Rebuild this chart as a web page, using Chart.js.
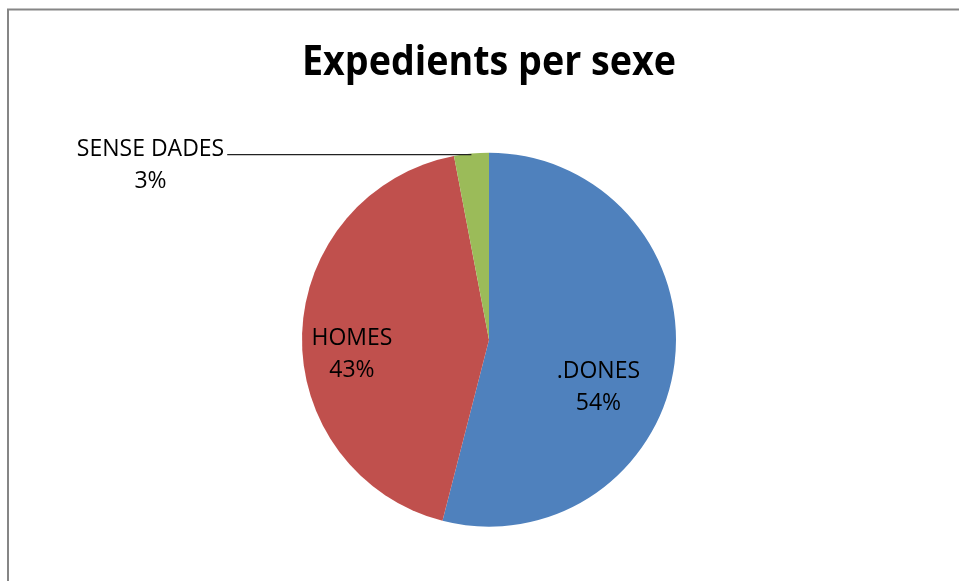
<!DOCTYPE html>
<html>
<head>
<meta charset="utf-8">
<script src="https://cdn.jsdelivr.net/npm/chart.js@4.4.1/dist/chart.umd.min.js"></script>
<style>
  html, body { margin: 0; padding: 0; background: #fff; }
  #wrap { width: 959px; height: 581px; position: relative; }
</style>
</head>
<body>
<div id="wrap"><canvas id="sexChart" width="959" height="581"></canvas></div>
<script>
// Data
const categories = [".DONES", "HOMES", "SENSE DADES"];
const percentages = [54, 43, 3];
const sliceColors = ["#4F81BD", "#C0504D", "#9BBB59"];

// label placement in radius units from pie centre (style only)
const labelOffsets = [[0.585, 0.255], [-0.733, 0.08], [-1.81, -0.93]];

const labelPlugin = {
  id: "excelLabels",
  beforeDraw(chart) {
    const ctx = chart.ctx;
    ctx.save();
    ctx.strokeStyle = "#868686";
    ctx.lineWidth = 2;
    ctx.strokeRect(8, 9.5, 1200, 800);
    ctx.restore();
  },
  afterDatasetsDraw(chart) {
    const ctx = chart.ctx;
    const arcs = chart.getDatasetMeta(0).data;
    ctx.save();
    ctx.font = "23px 'Open Sans'";
    ctx.fillStyle = "#000";
    ctx.textAlign = "center";
    ctx.textBaseline = "middle";
    arcs.forEach((arc, i) => {
      const r = arc.outerRadius;
      const x = arc.x + labelOffsets[i][0] * r;
      const y = arc.y + labelOffsets[i][1] * r;
      ctx.fillText(categories[i], x, y - 16);
      ctx.fillText(percentages[i] + "%", x, y + 16);
      if (i === 2) {
        // horizontal leader line from label to the top of the slice
        const mid = (arc.startAngle + arc.endAngle) / 2;
        const ex = arc.x + Math.cos(mid) * r;
        const ey = arc.y + Math.sin(mid) * r + 1;
        const tw = ctx.measureText(categories[i]).width;
        ctx.strokeStyle = "#222";
        ctx.lineWidth = 1.2;
        ctx.beginPath();
        ctx.moveTo(x + tw / 2 + 3, ey);
        ctx.lineTo(ex, ey);
        ctx.stroke();
      }
    });
    ctx.restore();
  }
};

new Chart(document.getElementById("sexChart").getContext("2d"), {
  type: "pie",
  data: {
    labels: categories,
    datasets: [{
      data: percentages,
      backgroundColor: sliceColors,
      borderWidth: 0
    }]
  },
  options: {
    responsive: false,
    animation: false,
    layout: { padding: { top: 10, bottom: 54, left: 302, right: 283 } },
    plugins: {
      legend: { display: false },
      tooltip: { enabled: false },
      title: {
        display: true,
        text: "Expedients per sexe",
        color: "#000",
        font: { family: "'Open Sans'", size: 42, weight: "bold", lineHeight: 1.2 },
        padding: { top: 28, bottom: 64 }
      }
    }
  },
  plugins: [labelPlugin]
});
</script>
</body>
</html>
